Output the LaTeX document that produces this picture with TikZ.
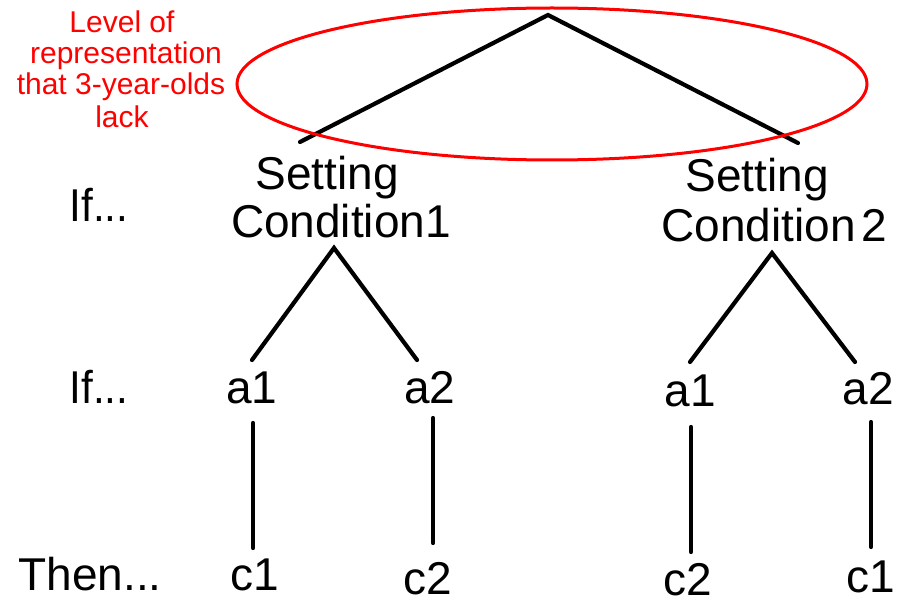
\documentclass[tikz,border=0pt]{standalone}
\usepackage{fontspec}
\setmainfont{Liberation Sans}
\begin{document}
\begin{tikzpicture}[x=1pt,y=-1pt,
  lbl/.style={inner sep=0pt,anchor=base,font=\fontsize{46}{50}\selectfont},
  note/.style={inner sep=0pt,anchor=base,text=red,font=\fontsize{30}{32}\selectfont},
  branch/.style={line width=4.2pt,line cap=round,line join=miter},
  halo/.style={draw=red,line width=3pt}]
\useasboundingbox (0,0) rectangle (897,604);

% red annotation
\node[note] (n1) at (122,33) {Level of};
\node[note] (n2) at (126,64) {representation};
\node[note] (n3) at (121,95) {that 3-year-olds};
\node[note] (n4) at (122,128) {lack};

% row labels
\node[lbl,xscale=0.92] (if1) at (99,222) {If...};
\node[lbl,xscale=0.92] (if2) at (99,403) {If...};
\node[lbl] (then) at (90,590) {Then...};

% setting conditions
\node[lbl] (s1a) at (327,190) {Setting};
\node[lbl] (s1b) at (341,237) {Condition1};
\node[lbl] (s2a) at (757,192) {Setting};
\node[lbl] (s2b) at (774,242) {Condition\kern0.12em 2};

% actions
\node[lbl] (a11) at (252,403) {a1};
\node[lbl] (a12) at (430,403) {a2};
\node[lbl] (a21) at (690,406) {a1};
\node[lbl] (a22) at (868,404) {a2};

% consequences
\node[lbl] (c11) at (255,590) {c1};
\node[lbl] (c12) at (428,594) {c2};
\node[lbl] (c21) at (688,595) {c2};
\node[lbl] (c22) at (871,592) {c1};

% branch end points
\coordinate (top) at (548,15);
\coordinate (topL) at (300,142);
\coordinate (topR) at (798,143);
\coordinate (k1) at (334,248);
\coordinate (k1L) at (252,360);
\coordinate (k1R) at (417,360);
\coordinate (k2) at (772,253);
\coordinate (k2L) at (690,362);
\coordinate (k2R) at (855,362);
\coordinate (v1a) at (253,423);
\coordinate (v1b) at (253,548);
\coordinate (v2a) at (433,418);
\coordinate (v2b) at (433,543);
\coordinate (v3a) at (691,427);
\coordinate (v3b) at (691,552);
\coordinate (v4a) at (871,422);
\coordinate (v4b) at (871,547);

% tree
\draw[branch] (topL) -- (top) -- (topR);
\draw[branch] (k1L) -- (k1) -- (k1R);
\draw[branch] (k2L) -- (k2) -- (k2R);
\draw[branch] (v1a) -- (v1b);
\draw[branch] (v2a) -- (v2b);
\draw[branch] (v3a) -- (v3b);
\draw[branch] (v4a) -- (v4b);

% the level circled in red
\coordinate (oc) at (552,84);
\draw[halo] (oc) ellipse [x radius=315, y radius=76];
\end{tikzpicture}
\end{document}
